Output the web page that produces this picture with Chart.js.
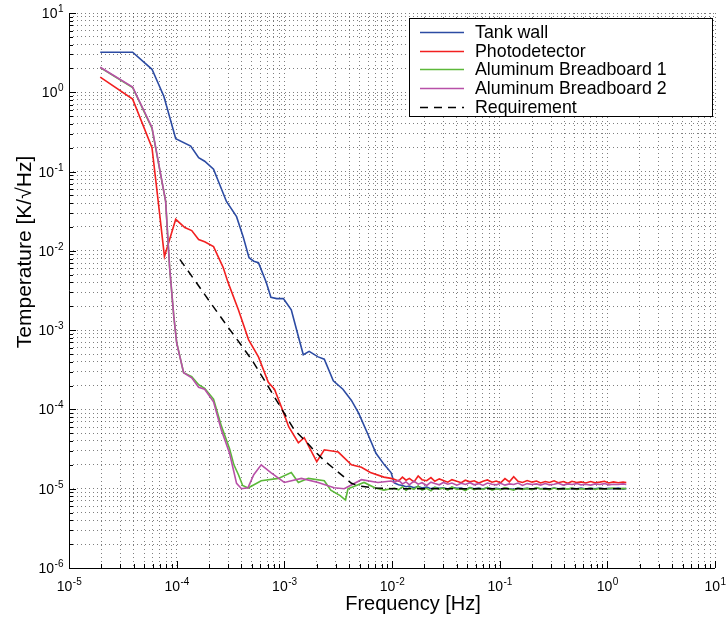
<!DOCTYPE html>
<html>
<head>
<meta charset="utf-8">
<script src="https://cdn.jsdelivr.net/npm/chart.js@4.4.1/dist/chart.umd.min.js"></script>
<style>
  html, body { margin: 0; padding: 0; background: #fff; }
</style>
</head>
<body>
<canvas id="psd" width="727" height="617"></canvas>
<script>
// values (frequency in Hz, temperature in K/rtHz)
const tankFreq = [1.95e-5, 3.9e-5, 5.9e-5, 7.6e-5, 9.8e-5, 1.35e-4, 1.6e-4, 1.82e-4, 2.2e-4, 2.9e-4, 3.6e-4, 4.15e-4, 4.7e-4, 5.2e-4, 5.75e-4, 6.8e-4, 7.5e-4, 8.5e-4, 9.8e-4, 1.16e-3, 1.35e-3, 1.5e-3, 1.7e-3, 2.06e-3, 2.35e-3, 2.85e-3, 3.5e-3, 4.2e-3, 4.9e-3, 6e-3, 7.1e-3, 8.5e-3, 9.8e-3];
const tankVals = [3.2, 3.2, 1.95, 0.89, 0.26, 0.21, 0.15, 0.135, 0.107, 0.042, 0.027, 0.015, 0.0082, 0.0074, 0.0071, 0.004, 0.0026, 0.0025, 0.0025, 0.0018, 8.3e-4, 4.9e-4, 5.4e-4, 4.6e-4, 4.3e-4, 2.3e-4, 1.8e-4, 1.3e-4, 9e-5, 4.8e-5, 2.8e-5, 2e-5, 1.6e-5];

const photoFreq = [1.95e-5, 3.9e-5, 5.9e-5, 6.7e-5, 7.7e-5, 9.8e-5, 1.19e-4, 1.38e-4, 1.6e-4, 1.82e-4, 2.2e-4, 2.7e-4, 3.0e-4, 3.75e-4, 4.65e-4, 5.75e-4, 7.1e-4, 8.1e-4, 9.4e-4, 1.1e-3, 1.35e-3, 1.53e-3, 2.0e-3, 2.35e-3, 3.17e-3, 4.2e-3, 5.2e-3, 6.3e-3, 8.4e-3, 9.8e-3];
const photoVals = [1.55, 0.82, 0.20, 0.045, 0.0085, 0.025, 0.0197, 0.018, 0.0139, 0.013, 0.0113, 0.0062, 0.004, 0.0018, 7.6e-4, 4.6e-4, 2.2e-4, 1.8e-4, 1.07e-4, 6e-5, 3.8e-5, 4.4e-5, 2.2e-5, 3.1e-5, 2.9e-5, 2e-5, 1.86e-5, 1.6e-5, 1.4e-5, 1.35e-5];

const board1Freq = [1.95e-5, 3.9e-5, 5.9e-5, 7.9e-5, 8.6e-5, 9.4e-5, 1.0e-4, 1.16e-4, 1.38e-4, 1.6e-4, 1.82e-4, 2.2e-4, 2.6e-4, 3.1e-4, 3.4e-4, 3.75e-4, 4.1e-4, 4.6e-4, 6.1e-4, 8.8e-4, 1.16e-3, 1.35e-3, 1.67e-3, 2.35e-3, 2.7e-3, 3.3e-3, 3.7e-3, 3.9e-3, 5.5e-3, 7e-3, 8.4e-3, 9.8e-3];
const board1Vals = [2.05, 1.15, 0.35, 0.042, 0.0062, 0.0015, 7e-4, 2.9e-4, 2.6e-4, 2.05e-4, 1.85e-4, 1.35e-4, 6.2e-5, 3.2e-5, 2e-5, 1.5e-5, 1.1e-5, 1.02e-5, 1.26e-5, 1.35e-5, 1.6e-5, 1.2e-5, 1.35e-5, 1.26e-5, 9.6e-6, 8.2e-6, 7.2e-6, 1.0e-5, 1.2e-5, 1.02e-5, 9.6e-6, 1.0e-5];

const board2Freq = [1.95e-5, 3.9e-5, 5.9e-5, 7.9e-5, 8.6e-5, 9.4e-5, 1.0e-4, 1.16e-4, 1.38e-4, 1.6e-4, 1.82e-4, 2.2e-4, 2.6e-4, 3.1e-4, 3.6e-4, 4.0e-4, 4.6e-4, 5.2e-4, 6.1e-4, 7.5e-4, 1.0e-3, 1.44e-3, 2.06e-3, 2.9e-3, 3.6e-3, 5.2e-3, 7.4e-3, 9.8e-3];
const board2Vals = [2.07, 1.16, 0.36, 0.042, 0.0062, 0.0015, 6.9e-4, 2.9e-4, 2.5e-4, 1.9e-4, 1.8e-4, 1.25e-4, 5.5e-5, 2.8e-5, 1.17e-5, 1.0e-5, 1.03e-5, 1.5e-5, 2.0e-5, 1.6e-5, 1.2e-5, 1.35e-5, 1.2e-5, 1.03e-5, 1.0e-5, 1.3e-5, 1.2e-5, 1.25e-5];

const reqFreq = [1.07e-4, 1.5e-4, 2e-4, 3e-4, 4e-4, 5e-4, 7e-4, 1e-3, 1.24e-3, 1.6e-3, 2e-3, 2.4e-3, 3e-3, 3.6e-3, 4.2e-3, 5e-3, 7e-3, 1e-2, 0.1, 1.5];
const reqVals = [7.8e-3, 4.1e-3, 2.35e-3, 1.09e-3, 6.4e-4, 4.2e-4, 2e-4, 8.9e-5, 5.5e-5, 3.9e-5, 2.8e-5, 2.2e-5, 1.72e-5, 1.4e-5, 1.17e-5, 1.08e-5, 1.02e-5, 1.0e-5, 1.0e-5, 1.0e-5];

// flat noise floor above 10 mHz
const tailFreq = [0.0105, 0.0115, 0.0125, 0.0135, 0.0145, 0.016, 0.0175, 0.019, 0.021, 0.023, 0.025, 0.0275, 0.03, 0.033, 0.036, 0.04, 0.044, 0.048, 0.053, 0.058, 0.064, 0.07, 0.077, 0.085, 0.093, 0.102, 0.112, 0.123, 0.135, 0.148, 0.163, 0.18, 0.2, 0.22, 0.24, 0.265, 0.29, 0.32, 0.35, 0.39, 0.43, 0.47, 0.52, 0.57, 0.63, 0.7, 0.77, 0.85, 0.94, 1.03, 1.14, 1.26, 1.4, 1.5];
const tankTail = [1.18e-5, 1.12e-5, 1.10e-5, 1.06e-5, 1.08e-5, 1.03e-5, 1.07e-5, 1.02e-5, 1.05e-5, 1.00e-5, 1.04e-5, 1.01e-5, 1.03e-5, 0.99e-5, 1.04e-5, 1.01e-5, 1.02e-5, 0.98e-5, 1.03e-5, 1.00e-5, 1.02e-5, 0.99e-5, 1.03e-5, 1.00e-5, 1.01e-5, 0.99e-5, 1.02e-5, 1.00e-5, 0.98e-5, 1.02e-5, 1.00e-5, 1.01e-5, 0.99e-5, 1.02e-5, 1.00e-5, 1.01e-5, 0.99e-5, 1.02e-5, 1.00e-5, 1.01e-5, 0.99e-5, 1.01e-5, 1.00e-5, 1.02e-5, 0.99e-5, 1.01e-5, 1.00e-5, 1.02e-5, 1.00e-5, 1.01e-5, 1.00e-5, 1.02e-5, 0.99e-5, 1.01e-5];
const photoTail = [1.32e-5, 1.25e-5, 1.40e-5, 1.28e-5, 1.35e-5, 1.22e-5, 1.45e-5, 1.30e-5, 1.26e-5, 1.38e-5, 1.24e-5, 1.33e-5, 1.27e-5, 1.21e-5, 1.30e-5, 1.24e-5, 1.19e-5, 1.28e-5, 1.22e-5, 1.26e-5, 1.18e-5, 1.24e-5, 1.29e-5, 1.21e-5, 1.25e-5, 1.19e-5, 1.34e-5, 1.22e-5, 1.42e-5, 1.24e-5, 1.20e-5, 1.27e-5, 1.21e-5, 1.25e-5, 1.18e-5, 1.23e-5, 1.20e-5, 1.26e-5, 1.19e-5, 1.23e-5, 1.17e-5, 1.24e-5, 1.20e-5, 1.22e-5, 1.18e-5, 1.23e-5, 1.19e-5, 1.21e-5, 1.24e-5, 1.18e-5, 1.22e-5, 1.19e-5, 1.21e-5, 1.20e-5];
const board1Tail = [1.02e-5, 0.97e-5, 1.06e-5, 0.95e-5, 1.03e-5, 0.98e-5, 1.08e-5, 0.96e-5, 1.01e-5, 0.94e-5, 1.04e-5, 0.99e-5, 1.02e-5, 0.96e-5, 1.05e-5, 0.98e-5, 1.00e-5, 0.95e-5, 1.03e-5, 0.97e-5, 1.01e-5, 0.98e-5, 1.04e-5, 0.96e-5, 1.00e-5, 0.97e-5, 1.03e-5, 0.99e-5, 0.96e-5, 1.02e-5, 0.98e-5, 1.01e-5, 0.97e-5, 1.03e-5, 0.99e-5, 1.00e-5, 0.97e-5, 1.02e-5, 0.98e-5, 1.01e-5, 0.99e-5, 1.02e-5, 0.98e-5, 1.00e-5, 0.99e-5, 1.02e-5, 0.98e-5, 1.01e-5, 0.99e-5, 1.00e-5, 1.02e-5, 0.99e-5, 1.01e-5, 1.00e-5];
const board2Tail = [1.20e-5, 1.28e-5, 1.15e-5, 1.22e-5, 1.12e-5, 1.25e-5, 1.14e-5, 1.19e-5, 1.10e-5, 1.21e-5, 1.16e-5, 1.12e-5, 1.20e-5, 1.14e-5, 1.18e-5, 1.11e-5, 1.17e-5, 1.13e-5, 1.19e-5, 1.12e-5, 1.16e-5, 1.10e-5, 1.18e-5, 1.14e-5, 1.12e-5, 1.17e-5, 1.11e-5, 1.15e-5, 1.13e-5, 1.18e-5, 1.10e-5, 1.16e-5, 1.13e-5, 1.15e-5, 1.11e-5, 1.16e-5, 1.12e-5, 1.14e-5, 1.17e-5, 1.11e-5, 1.15e-5, 1.13e-5, 1.16e-5, 1.12e-5, 1.14e-5, 1.11e-5, 1.15e-5, 1.13e-5, 1.16e-5, 1.12e-5, 1.14e-5, 1.13e-5, 1.15e-5, 1.13e-5];

const seriesLabels = ['Tank wall', 'Photodetector', 'Aluminum Breadboard 1', 'Aluminum Breadboard 2', 'Requirement'];
const xExps = [-5, -4, -3, -2, -1, 0, 1];
const yExps = [-6, -5, -4, -3, -2, -1, 0, 1];

const fontFam = '"Liberation Sans", Arial, Helvetica, sans-serif';

const toPts = (fs, vs) => fs.map((f, i) => ({ x: f, y: vs[i] }));

// 1..9 x 10^n grid positions for a log axis
function decadeTicks(exps) {
  const out = [];
  exps.forEach((e, i) => {
    const base = Math.pow(10, e);
    if (i === exps.length - 1) { out.push({ value: base, major: true }); return; }
    for (let k = 1; k < 10; k++) out.push({ value: k * base, major: k === 1 });
  });
  return out;
}

function drawPow(ctx, exp, x, y, align) {
  ctx.font = '14px ' + fontFam;
  const wb = ctx.measureText('10').width;
  ctx.font = '10px ' + fontFam;
  const sup = String(exp);
  const ws = ctx.measureText(sup).width;
  let x0 = x;
  if (align === 'right') x0 = x - wb - ws;
  else if (align === 'center') x0 = x - (wb + ws) / 2;
  ctx.textAlign = 'left';
  ctx.textBaseline = 'alphabetic';
  ctx.font = '14px ' + fontFam;
  ctx.fillText('10', x0, y);
  ctx.font = '10px ' + fontFam;
  ctx.fillText(sup, x0 + wb + 0.5, y - 6);
}

const matlabAxes = {
  id: 'matlabAxes',
  afterDraw(chart) {
    const { ctx, chartArea: a } = chart;
    const xs = chart.scales.x, ys = chart.scales.y;
    ctx.save();
    ctx.strokeStyle = '#000';
    ctx.lineWidth = 1;
    ctx.beginPath();
    ctx.moveTo(a.left + 0.5, a.top);
    ctx.lineTo(a.left + 0.5, a.bottom + 0.5);
    ctx.lineTo(a.right, a.bottom + 0.5);
    // inward tick marks
    decadeTicks(xExps).forEach(t => {
      const px = Math.round(xs.getPixelForValue(t.value)) + 0.5;
      ctx.moveTo(px, a.bottom);
      ctx.lineTo(px, a.bottom - (t.major ? 7 : 4));
    });
    decadeTicks(yExps).forEach(t => {
      const py = Math.round(ys.getPixelForValue(t.value)) + 0.5;
      ctx.moveTo(a.left, py);
      ctx.lineTo(a.left + (t.major ? 7 : 4), py);
    });
    ctx.stroke();

    ctx.fillStyle = '#000';
    xExps.forEach(e => drawPow(ctx, e, xs.getPixelForValue(Math.pow(10, e)), a.bottom + 23, 'center'));
    yExps.forEach(e => drawPow(ctx, e, a.left - 6, ys.getPixelForValue(Math.pow(10, e)) + 5, 'right'));

    // axis titles
    ctx.font = '20px ' + fontFam;
    ctx.textAlign = 'center';
    ctx.fillText('Frequency [Hz]', 413, 610);
    ctx.save();
    ctx.translate(31, 252);
    ctx.rotate(-Math.PI / 2);
    ctx.font = '21px ' + fontFam;
    ctx.fillText('Temperature [K/\u221AHz]', 0, 0);
    ctx.restore();

    // legend box
    const lx = 409, ly = 18, lw = 303, lh = 98;
    ctx.fillStyle = '#fff';
    ctx.fillRect(lx, ly, lw, lh);
    ctx.strokeStyle = '#000';
    ctx.strokeRect(lx + 0.5, ly + 0.5, lw, lh);
    ctx.font = '17.8px ' + fontFam;
    ctx.textAlign = 'left';
    ctx.textBaseline = 'middle';
    chart.data.datasets.forEach((ds, i) => {
      const yy = 32 + i * 18.7;
      ctx.strokeStyle = ds.borderColor;
      ctx.lineWidth = 1.4;
      ctx.setLineDash(ds.borderDash || []);
      ctx.beginPath();
      ctx.moveTo(420, Math.round(yy) + 0.5);
      ctx.lineTo(464, Math.round(yy) + 0.5);
      ctx.stroke();
      ctx.setLineDash([]);
      ctx.fillStyle = '#000';
      ctx.fillText(ds.label, 475, yy + 1);
    });
    ctx.restore();
  }
};

const gridOpts = { color: 'rgba(0,0,0,0.5)', lineWidth: 1, drawTicks: false, tickLength: 0 };
const borderOpts = { display: false, dash: [1, 3] };

new Chart(document.getElementById('psd'), {
  type: 'line',
  data: {
    datasets: [
      { label: seriesLabels[0], data: toPts(tankFreq.concat(tailFreq), tankVals.concat(tankTail)), borderColor: '#2c4ba3', borderWidth: 1.6, order: 5 },
      { label: seriesLabels[1], data: toPts(photoFreq.concat(tailFreq), photoVals.concat(photoTail)), borderColor: '#f22020', borderWidth: 1.6, order: 4 },
      { label: seriesLabels[2], data: toPts(board1Freq.concat(tailFreq), board1Vals.concat(board1Tail)), borderColor: '#5cb83a', borderWidth: 1.6, order: 3 },
      { label: seriesLabels[3], data: toPts(board2Freq.concat(tailFreq), board2Vals.concat(board2Tail)), borderColor: '#b850a8', borderWidth: 1.6, order: 2 },
      { label: seriesLabels[4], data: toPts(reqFreq, reqVals), borderColor: '#000', borderWidth: 1.5, borderDash: [8, 6], order: 1 }
    ]
  },
  options: {
    responsive: false,
    animation: false,
    parsing: false,
    layout: { padding: { left: 69, top: 13, right: 12, bottom: 49 } },
    elements: { point: { radius: 0 }, line: { tension: 0, fill: false } },
    plugins: { legend: { display: false }, tooltip: { enabled: false } },
    scales: {
      x: {
        type: 'logarithmic', min: 1e-5, max: 10,
        afterBuildTicks: ax => { ax.ticks = decadeTicks(xExps).map(t => ({ value: t.value })); },
        ticks: { display: false },
        grid: gridOpts, border: borderOpts
      },
      y: {
        type: 'logarithmic', min: 1e-6, max: 10,
        afterBuildTicks: ax => { ax.ticks = decadeTicks(yExps).map(t => ({ value: t.value })); },
        ticks: { display: false },
        grid: gridOpts, border: borderOpts
      }
    }
  },
  plugins: [matlabAxes]
});
</script>
</body>
</html>
